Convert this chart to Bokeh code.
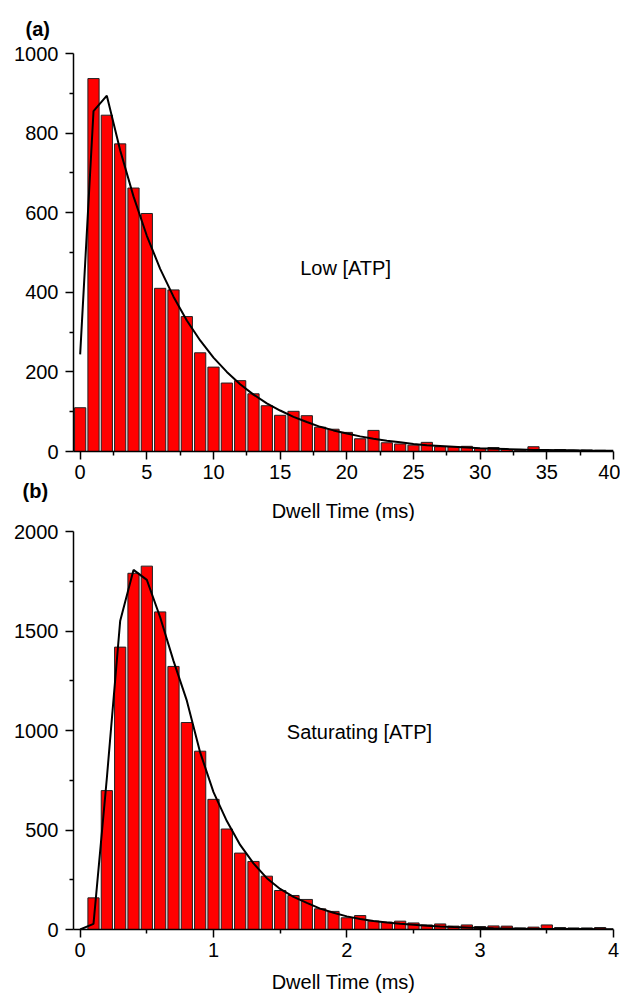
from bokeh.plotting import figure
from bokeh.layouts import column
from bokeh.models import FixedTicker, Label, Title
from bokeh.embed import file_html
from bokeh.resources import INLINE

# ---------------- data: panel (a) Low [ATP] ----------------
low_bins = list(range(0, 40))
low_counts = [110, 937, 845, 773, 662, 598, 410, 406, 339, 248,
              212, 172, 178, 145, 115, 91, 101, 90, 61, 56,
              48, 32, 53, 22, 19, 16, 23, 12, 12, 13,
              7, 10, 5, 3, 12, 2, 5, 3, 4, 3]
low_fit_x = list(range(0, 41))
low_fit_y = [244, 855, 894, 757, 641, 542, 459, 389, 329, 279,
             236, 200, 169, 143, 121, 103, 87, 74, 62, 53,
             45, 38, 32, 27, 23, 19, 16, 14, 12, 10,
             8, 7, 6, 5, 4, 4, 3, 3, 2, 2, 2]

# ---------------- data: panel (b) Saturating [ATP] ----------------
sat_bins = [0.1, 0.2, 0.3, 0.4, 0.5, 0.6, 0.7, 0.8, 0.9, 1.0,
            1.1, 1.2, 1.3, 1.4, 1.5, 1.6, 1.7, 1.8, 1.9, 2.0,
            2.1, 2.2, 2.3, 2.4, 2.5, 2.6, 2.7, 2.8, 2.9, 3.0,
            3.1, 3.2, 3.3, 3.4, 3.5, 3.6, 3.7, 3.8, 3.9]
sat_counts = [159, 698, 1419, 1790, 1826, 1596, 1322, 1040, 896, 654,
              505, 384, 342, 268, 196, 171, 151, 104, 91, 59,
              70, 42, 37, 42, 33, 23, 28, 17, 23, 15,
              18, 17, 8, 12, 23, 10, 8, 8, 10]
sat_fit_x = [0.0, 0.1, 0.2, 0.3, 0.4, 0.5, 0.6, 0.7, 0.8, 0.9, 1.0,
             1.1, 1.2, 1.3, 1.4, 1.5, 1.6, 1.7, 1.8, 1.9, 2.0,
             2.1, 2.2, 2.3, 2.4, 2.5, 2.6, 2.7, 2.8, 2.9, 3.0,
             3.1, 3.2, 3.3, 3.4, 3.5, 3.6, 3.7, 3.8, 3.9, 4.0]
sat_fit_y = [0, 28, 760, 1550, 1807, 1757, 1569, 1350, 1150, 890, 690,
             545, 425, 332, 258, 204, 164, 134, 105, 84, 66,
             53, 43, 35, 29, 24, 19, 15, 12, 10, 8,
             6, 5, 4, 3, 3, 2, 2, 2, 1, 1]

FONT = "Liberation Sans"
BAR_FILL = "#ff0000"
BAR_LINE = "#222222"


def style(p, xticks, xminor, yticks, yminor):
    p.xgrid.visible = False
    p.ygrid.visible = False
    p.outline_line_color = None
    p.background_fill_color = "white"
    p.border_fill_color = "white"
    for ax in (p.xaxis[0], p.yaxis[0]):
        ax.axis_line_color = "black"
        ax.axis_line_width = 1.5
        ax.major_tick_line_color = "black"
        ax.major_tick_line_width = 1.5
        ax.minor_tick_line_color = "black"
        ax.minor_tick_line_width = 1.5
        ax.major_tick_in = 0
        ax.major_tick_out = 8
        ax.minor_tick_in = 0
        ax.minor_tick_out = 4
        ax.major_label_text_font = FONT
        ax.major_label_text_font_size = "20px"
        ax.major_label_text_color = "black"
        ax.major_label_standoff = 5
        ax.axis_label_text_font = FONT
        ax.axis_label_text_font_size = "20px"
        ax.axis_label_text_font_style = "normal"
        ax.axis_label_text_color = "black"
    p.yaxis[0].major_label_standoff = 7
    p.xaxis[0].ticker = FixedTicker(ticks=xticks, minor_ticks=xminor)
    p.yaxis[0].ticker = FixedTicker(ticks=yticks, minor_ticks=yminor)


# ---------------- panel (a) ----------------
p1 = figure(width=620, height=521, x_range=(-0.5, 40), y_range=(0, 1000),
            output_backend="svg", toolbar_location=None,
            min_border_left=73, min_border_right=7, min_border_top=53,
            min_border_bottom=69)
p1.vbar(x=low_bins, top=low_counts, width=0.84, bottom=0,
        fill_color=BAR_FILL, line_color=BAR_LINE, line_width=1)
p1.line(low_fit_x, low_fit_y, line_color="black", line_width=2)
style(p1,
      [0, 5, 10, 15, 20, 25, 30, 35, 40],
      [2.5, 7.5, 12.5, 17.5, 22.5, 27.5, 32.5, 37.5],
      [0, 200, 400, 600, 800, 1000],
      [100, 300, 500, 700, 900])
p1.title = Title(text="(a)", align="left", offset=-48, standoff=28,
                 text_font=FONT, text_font_size="20px",
                 text_font_style="bold", text_color="black")
p1.add_layout(Title(text="(b)", align="left", offset=-51, standoff=-8,
                    text_font=FONT, text_font_size="20px",
                    text_font_style="bold", text_color="black"), "below")
p1.add_layout(Title(text="Dwell Time (ms)", align="center", standoff=0,
                    text_font=FONT, text_font_size="20px",
                    text_font_style="normal", text_color="black"), "below")
p1.add_layout(Label(x=16.5, y=461, text="Low [ATP]", text_font=FONT,
                    text_font_size="20px", text_baseline="middle",
                    text_align="left", text_color="black"))

# ---------------- panel (b) ----------------
p2 = figure(width=620, height=476, x_range=(-0.05, 4), y_range=(0, 2000),
            output_backend="svg", toolbar_location=None,
            min_border_left=73, min_border_right=7, min_border_top=10,
            min_border_bottom=68)
p2.vbar(x=sat_bins, top=sat_counts, width=0.084, bottom=0,
        fill_color=BAR_FILL, line_color=BAR_LINE, line_width=1)
p2.line(sat_fit_x, sat_fit_y, line_color="black", line_width=2)
style(p2,
      [0, 1, 2, 3, 4],
      [0.5, 1.5, 2.5, 3.5],
      [0, 500, 1000, 1500, 2000],
      [250, 750, 1250, 1750])
p2.xaxis[0].axis_label = "Dwell Time (ms)"
p2.xaxis[0].axis_label_standoff = 11
p2.add_layout(Label(x=1.55, y=993, text="Saturating [ATP]", text_font=FONT,
                    text_font_size="20px", text_baseline="middle",
                    text_align="left", text_color="black"))

layout = column(p1, p2, spacing=0)
open("out.html", "w").write(file_html(layout, INLINE))
